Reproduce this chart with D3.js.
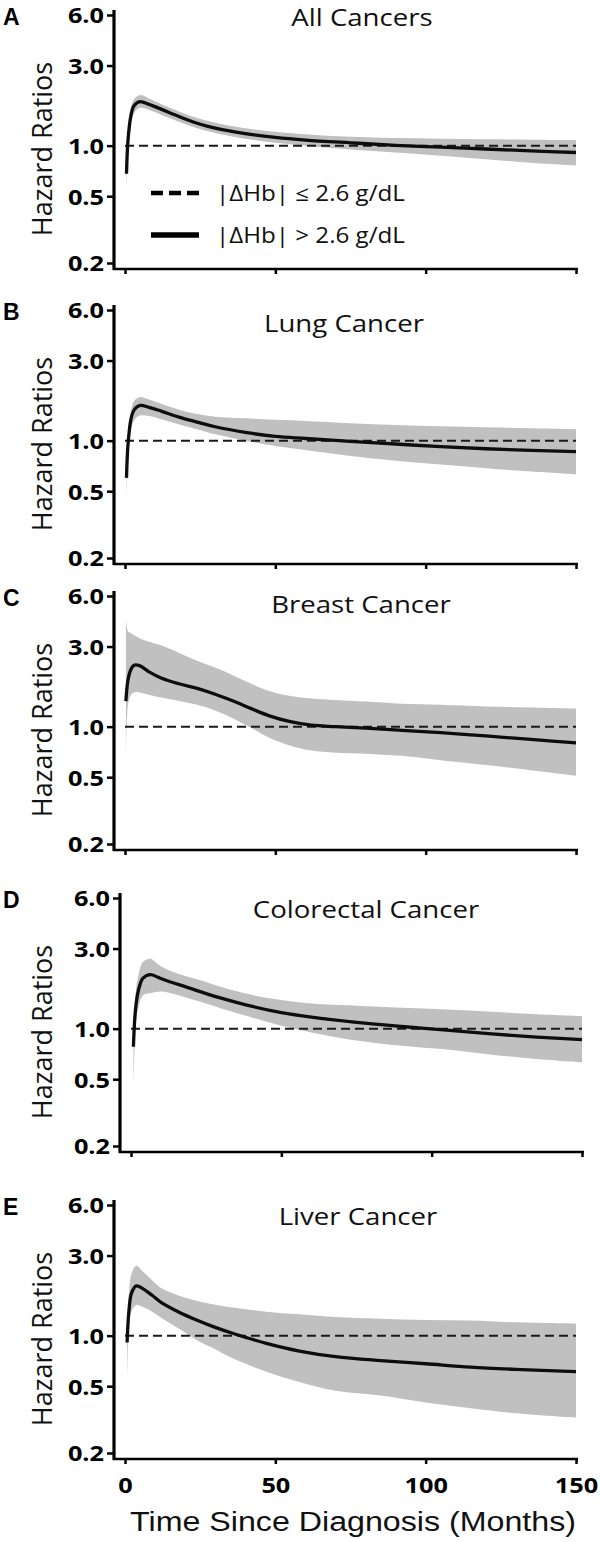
<!DOCTYPE html>
<html><head><meta charset="utf-8">
<script src="https://cdn.jsdelivr.net/npm/d3@7"></script>
<style>body{margin:0;background:#fff}</style>
</head><body><svg id="chart" width="600" height="1542"></svg>
<script>
// ---------- data ----------
const panelLetters = ["A","B","C","D","E"];
const panelTitles = ["All Cancers","Lung Cancer","Breast Cancer","Colorectal Cancer","Liver Cancer"];
const yTickValues = [0.2, 0.5, 1.0, 3.0, 6.0];
const xTickValues = [0, 50, 100, 150];
const legendLabels = ["|ΔHb| ≤ 2.6 g/dL", "|ΔHb| > 2.6 g/dL"];
const xAxisTitle = "Time Since Diagnosis (Months)";
const yAxisTitle = "Hazard Ratios";
const referenceHR = 1.0;

const allMonths = [0.5,1,2,3,5,8,12,18,24,30,40,50,60,75,90,105,120,135,150];
const allHR     = [0.68,1.08,1.52,1.73,1.83,1.76,1.65,1.49,1.36,1.27,1.18,1.12,1.08,1.04,1.005,0.98,0.955,0.93,0.91];
const allLower  = [0.53,0.88,1.32,1.56,1.68,1.63,1.53,1.39,1.27,1.19,1.10,1.04,1.00,0.95,0.91,0.87,0.83,0.79,0.76];
const allUpper  = [0.85,1.28,1.70,1.89,2.0,1.91,1.77,1.60,1.46,1.37,1.27,1.21,1.17,1.13,1.11,1.10,1.09,1.085,1.08];

const lungMonths = [0.5,1,2,3,5,8,12,18,24,30,40,50,60,75,90,105,120,135,150];
const lungHR     = [0.60,0.95,1.35,1.52,1.62,1.58,1.50,1.38,1.29,1.21,1.12,1.06,1.03,0.99,0.955,0.92,0.895,0.875,0.86];
const lungLower  = [0.44,0.80,1.15,1.32,1.41,1.40,1.34,1.25,1.17,1.09,1.00,0.93,0.88,0.81,0.76,0.72,0.685,0.655,0.63];
const lungUpper  = [0.75,1.10,1.50,1.72,1.82,1.76,1.66,1.53,1.44,1.39,1.36,1.33,1.31,1.27,1.24,1.22,1.20,1.185,1.17];

const breastMonths = [0.3,1,2,3,5,8,12,18,24,30,36,42,48,55,62,70,80,92,105,120,135,150];
const breastHR     = [1.42,1.9,2.2,2.32,2.3,2.12,1.95,1.80,1.69,1.56,1.42,1.28,1.16,1.07,1.02,1.00,0.98,0.95,0.92,0.88,0.84,0.80];
const breastLower  = [0.47,1.35,1.55,1.6,1.6,1.55,1.49,1.42,1.35,1.25,1.12,0.98,0.86,0.77,0.72,0.70,0.69,0.67,0.63,0.59,0.55,0.51];
const breastUpper  = [4.4,3.7,3.6,3.5,3.35,3.2,3.05,2.75,2.47,2.25,2.02,1.80,1.63,1.52,1.47,1.44,1.41,1.37,1.35,1.32,1.30,1.28];

const colorectalMonths = [0.8,1.5,2.5,4,6.5,9,12,18,24,30,40,50,60,75,90,105,120,135,150];
const colorectalHR     = [0.78,1.3,1.7,2.0,2.10,2.02,1.93,1.78,1.64,1.52,1.36,1.245,1.17,1.09,1.03,0.98,0.93,0.89,0.86];
const colorectalLower  = [0.41,1.0,1.35,1.58,1.63,1.66,1.65,1.54,1.43,1.32,1.17,1.04,0.95,0.85,0.79,0.75,0.70,0.66,0.63];
const colorectalUpper  = [0.95,1.6,2.1,2.5,2.61,2.42,2.25,2.06,1.92,1.77,1.59,1.48,1.41,1.37,1.33,1.30,1.26,1.22,1.19];

const liverMonths = [0.7,1.3,2.2,3.8,6,9,12,18,24,30,36,47,58,70,85,100,115,130,150];
const liverHR     = [0.91,1.4,1.8,1.98,1.90,1.74,1.58,1.38,1.235,1.12,1.03,0.90,0.81,0.75,0.71,0.68,0.65,0.63,0.61];
const liverLower  = [0.52,1.1,1.4,1.52,1.48,1.39,1.28,1.10,0.94,0.83,0.73,0.61,0.53,0.47,0.44,0.40,0.37,0.345,0.325];
const liverUpper  = [1.1,1.8,2.35,2.61,2.40,2.14,1.92,1.73,1.61,1.53,1.47,1.39,1.34,1.29,1.26,1.24,1.23,1.20,1.18];

// ---------- layout ----------
const panelTop = [15, 310, 596, 898, 1205];
const panelShiftX = [0, 0, 0, 6, 0];
const titleX = [362, 344, 361, 366, 358];
const titleDy = [11, 22, 17, 20, 20];
const plotH = 248;
const axisX = 114;
const stretch = 1.15;

const seriesSets = [
  [allMonths, allHR, allLower, allUpper],
  [lungMonths, lungHR, lungLower, lungUpper],
  [breastMonths, breastHR, breastLower, breastUpper],
  [colorectalMonths, colorectalHR, colorectalLower, colorectalUpper],
  [liverMonths, liverHR, liverLower, liverUpper]
];

const svg = d3.select("#chart");
const x = d3.scaleLinear().domain([0, 150]).range([125, 576]);
const y = d3.scaleLog().domain([0.2, 6]).range([plotH, 0]);
const smooth = d3.curveCatmullRom.alpha(0.5);

function sText(sel, tx, ty, txt, anchor) {
  return sel.append("text")
    .attr("transform", `translate(${tx},${ty}) scale(${stretch},1)`)
    .attr("text-anchor", anchor || "start")
    .text(txt);
}

panelTitles.forEach((title, i) => {
  const [m, hr, lo, hi] = seriesSets[i];
  const pts = m.map((t, k) => ({t, hr: hr[k], lo: lo[k], hi: hi[k]}));
  const g = svg.append("g").attr("transform", `translate(${panelShiftX[i]},${panelTop[i]})`);

  // CI band
  g.append("path").datum(pts)
    .attr("fill", "#c0c0c0")
    .attr("d", d3.area().curve(smooth)
      .x(d => x(d.t)).y0(d => y(d.lo)).y1(d => y(d.hi)));

  // reference line
  g.append("line")
    .attr("x1", x(0)).attr("x2", x(150))
    .attr("y1", y(referenceHR)).attr("y2", y(referenceHR))
    .attr("stroke", "#1a1a1a").attr("stroke-width", 2).attr("stroke-dasharray", "9,5");

  // HR curve
  g.append("path").datum(pts)
    .attr("fill", "none").attr("stroke", "#0d0d0d").attr("stroke-width", 3.3)
    .attr("stroke-linejoin", "round")
    .attr("d", d3.line().curve(smooth).x(d => x(d.t)).y(d => y(d.hr)));

  // y axis ticks
  const ya = g.append("g").attr("transform", `translate(${axisX},0)`)
    .call(d3.axisLeft(y).tickValues(yTickValues).tickFormat(d3.format(".1f")).tickSize(7).tickSizeOuter(0));
  ya.select(".domain").remove();
  ya.selectAll("line").attr("stroke", "#000").attr("stroke-width", 2.5);
  ya.selectAll("text")
    .attr("x", null).attr("dy", "0.36em")
    .attr("transform", `translate(-10,0) scale(${stretch},1)`)
    .attr("text-anchor", "end")
    .attr("font-family", "'Open Sans', sans-serif").attr("font-weight", "bold")
    .attr("font-size", 22).attr("fill", "#000");

  // x axis ticks
  const xa = g.append("g").attr("transform", `translate(0,${plotH + 6})`)
    .call(d3.axisBottom(x).tickValues(xTickValues).tickSize(5).tickSizeOuter(0)
      .tickFormat(i === panelTitles.length - 1 ? d3.format("d") : () => ""));
  xa.select(".domain").remove();
  xa.selectAll("line").attr("stroke", "#000").attr("stroke-width", 2.5);
  xa.selectAll("text")
    .attr("y", null).attr("dy", null)
    .attr("transform", `translate(0,34) scale(${stretch},1)`)
    .attr("font-family", "'Open Sans', sans-serif").attr("font-weight", "bold")
    .attr("font-size", 22).attr("fill", "#000");

  // axis lines
  g.append("line").attr("x1", axisX).attr("x2", axisX).attr("y1", -5).attr("y2", plotH + 7)
    .attr("stroke", "#000").attr("stroke-width", 3.2);
  g.append("line").attr("x1", axisX - 1).attr("x2", x(150) + 2).attr("y1", plotH + 6).attr("y2", plotH + 6)
    .attr("stroke", "#000").attr("stroke-width", 2.5);

  // panel letter
  g.append("text").attr("x", 3 - panelShiftX[i]).attr("y", 10).text(panelLetters[i])
    .attr("font-family", "'Liberation Sans', Arial, sans-serif").attr("font-weight", "bold")
    .attr("font-size", 23).attr("fill", "#000");

  // title
  sText(g, titleX[i] - panelShiftX[i], titleDy[i], title, "middle")
    .attr("font-family", "'Open Sans', sans-serif").attr("font-size", 24).attr("fill", "#111");

  // y label
  g.append("text")
    .attr("transform", `translate(${52 - panelShiftX[i]},134) rotate(-90)`)
    .attr("text-anchor", "middle")
    .attr("font-family", "'Open Sans', sans-serif").attr("font-size", 27).attr("fill", "#111")
    .text(yAxisTitle);

  // legend in panel A
  if (i === 0) {
    const legY = [193 - panelTop[0], 235 - panelTop[0]];
    g.append("line").attr("x1", 151).attr("x2", 199).attr("y1", legY[0]).attr("y2", legY[0])
      .attr("stroke", "#000").attr("stroke-width", 4.5).attr("stroke-dasharray", "12,6");
    g.append("line").attr("x1", 151).attr("x2", 199).attr("y1", legY[1]).attr("y2", legY[1])
      .attr("stroke", "#000").attr("stroke-width", 5.5);
    legendLabels.forEach((lab, k) => {
      sText(g, 216, legY[k] + 7.5, lab, "start")
        .attr("font-family", "'Open Sans', sans-serif").attr("font-size", 21).attr("fill", "#111");
    });
  }
});

// x axis title
sText(svg, 353, 1531, xAxisTitle, "middle")
  .attr("font-family", "'Liberation Sans', Arial, sans-serif").attr("font-size", 28).attr("fill", "#111");
</script></body></html>
